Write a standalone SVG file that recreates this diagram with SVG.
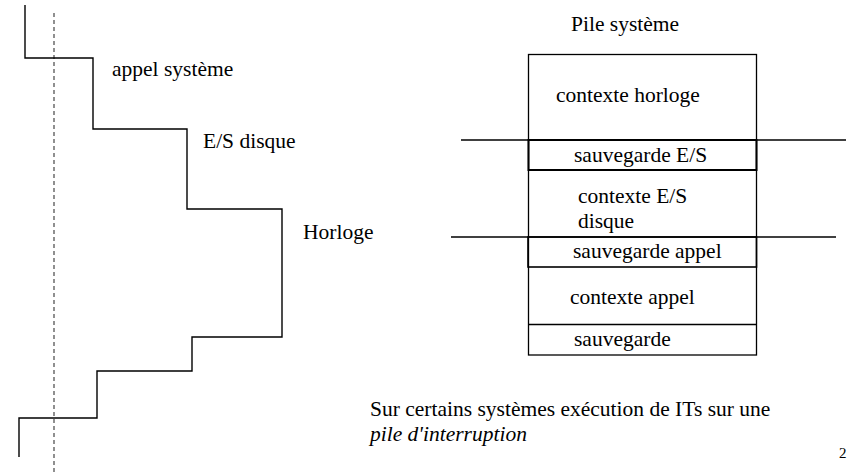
<svg xmlns="http://www.w3.org/2000/svg" width="847" height="474" viewBox="0 0 847 474" font-family="'Liberation Serif', 'Times New Roman', Tinos, 'DejaVu Serif', serif">
<style>
text{font-family:'Liberation Serif','Times New Roman',Tinos,'DejaVu Serif',serif;font-size:21.5px;fill:#000}
.ln{stroke:#000;fill:none}
.dash{stroke:#555;stroke-width:1.3;stroke-dasharray:4 3;fill:none}
</style>
<rect width="847" height="474" fill="#fff"/>
<g id="connectors">
<line id="timeline" class="dash" x1="54" y1="13" x2="54" y2="472"/>
<path id="staircase" class="ln" stroke-width="1.4" d="M25,5 V58 H93 V129 H187 V209 H282 V337 H192 V371 H97 V418 H19 V457"/>
<line id="sep1" class="ln" stroke-width="1.3" x1="461" y1="140" x2="846" y2="140"/>
<line id="sep2" class="ln" stroke-width="1.3" x1="451" y1="237" x2="836" y2="237"/>
</g>
<g id="label-appel"><text x="112" y="76">appel système</text></g>
<g id="label-es"><text x="203" y="148">E/S disque</text></g>
<g id="label-horloge"><text x="303" y="239">Horloge</text></g>
<g id="pile-title"><text x="571" y="31">Pile système</text></g>
<g id="pile">
<rect class="ln" stroke-width="1.3" x="528.5" y="54.5" width="228" height="300.5"/>
</g>
<g id="ctx-horloge"><text x="556" y="102">contexte horloge</text></g>
<g id="sauv-es">
<rect class="ln" stroke-width="2" x="528.5" y="140" width="228" height="30"/>
<text x="574" y="162">sauvegarde E/S</text>
</g>
<g id="ctx-es"><text x="578" y="203">contexte E/S</text><text x="578" y="228">disque</text></g>
<g id="sauv-appel">
<rect class="ln" stroke-width="1.6" x="528" y="237" width="228.5" height="30"/>
<text x="573" y="258">sauvegarde appel</text>
</g>
<g id="ctx-appel">
<line class="ln" stroke-width="1.6" x1="528.5" y1="324.5" x2="756.5" y2="324.5"/>
<text x="570" y="304">contexte appel</text>
</g>
<g id="sauv"><text x="574" y="346">sauvegarde</text></g>
<g id="note">
<text x="370" y="416">Sur certains systèmes exécution de ITs sur une</text>
<text x="370" y="441" font-style="italic">pile d'interruption</text>
</g>
<g id="page"><text x="839" y="458" style="font-size:15px">2</text></g>
</svg>
